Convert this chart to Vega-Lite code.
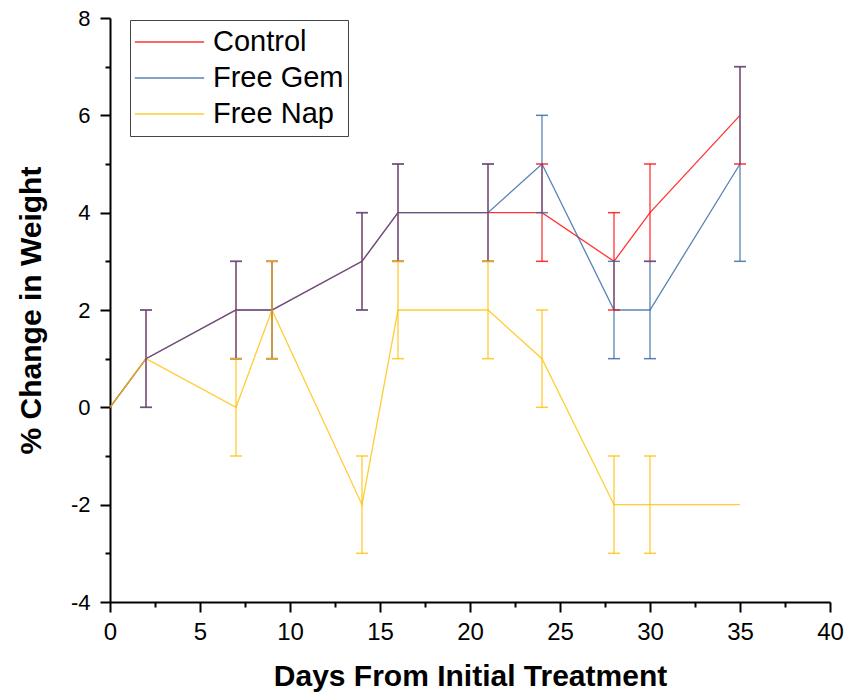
{
  "$schema": "https://vega.github.io/schema/vega-lite/v6.json",
  "width": 720,
  "height": 584,
  "autosize": {"type": "none"},
  "padding": {"left": 110, "top": 18, "right": 21, "bottom": 96},
  "background": "white",
  "config": {
    "view": {"stroke": null},
    "font": "Liberation Sans",
    "axis": {"grid": false, "domainColor": "black", "tickColor": "black", "labelColor": "black", "titleColor": "black", "labelFont": "Liberation Sans", "titleFont": "Liberation Sans", "domainWidth": 2, "tickWidth": 2, "labelFlush": false, "labelOverlap": false}
  },
  "data": {"values": [
    {"day": 0, "pct": 0, "group": "Control"},
    {"day": 2, "pct": 1, "lo": 0, "hi": 2, "group": "Control"},
    {"day": 7, "pct": 2, "lo": 1, "hi": 3, "group": "Control"},
    {"day": 9, "pct": 2, "lo": 1, "hi": 3, "group": "Control"},
    {"day": 14, "pct": 3, "lo": 2, "hi": 4, "group": "Control"},
    {"day": 16, "pct": 4, "lo": 3, "hi": 5, "group": "Control"},
    {"day": 21, "pct": 4, "lo": 3, "hi": 5, "group": "Control"},
    {"day": 24, "pct": 4, "lo": 3, "hi": 5, "group": "Control"},
    {"day": 28, "pct": 3, "lo": 2, "hi": 4, "group": "Control"},
    {"day": 30, "pct": 4, "lo": 3, "hi": 5, "group": "Control"},
    {"day": 35, "pct": 6, "lo": 5, "hi": 7, "group": "Control"},
    {"day": 0, "pct": 0, "group": "Free Gem"},
    {"day": 2, "pct": 1, "lo": 0, "hi": 2, "group": "Free Gem"},
    {"day": 7, "pct": 2, "lo": 1, "hi": 3, "group": "Free Gem"},
    {"day": 9, "pct": 2, "lo": 1, "hi": 3, "group": "Free Gem"},
    {"day": 14, "pct": 3, "lo": 2, "hi": 4, "group": "Free Gem"},
    {"day": 16, "pct": 4, "lo": 3, "hi": 5, "group": "Free Gem"},
    {"day": 21, "pct": 4, "lo": 3, "hi": 5, "group": "Free Gem"},
    {"day": 24, "pct": 5, "lo": 4, "hi": 6, "group": "Free Gem"},
    {"day": 28, "pct": 2, "lo": 1, "hi": 3, "group": "Free Gem"},
    {"day": 30, "pct": 2, "lo": 1, "hi": 3, "group": "Free Gem"},
    {"day": 35, "pct": 5, "lo": 3, "hi": 7, "group": "Free Gem"},
    {"day": 0, "pct": 0, "group": "Free Nap"},
    {"day": 2, "pct": 1, "group": "Free Nap"},
    {"day": 7, "pct": 0, "lo": -1, "hi": 1, "group": "Free Nap"},
    {"day": 9, "pct": 2, "lo": 1, "hi": 3, "group": "Free Nap"},
    {"day": 14, "pct": -2, "lo": -3, "hi": -1, "group": "Free Nap"},
    {"day": 16, "pct": 2, "lo": 1, "hi": 3, "group": "Free Nap"},
    {"day": 21, "pct": 2, "lo": 1, "hi": 3, "group": "Free Nap"},
    {"day": 24, "pct": 1, "lo": 0, "hi": 2, "group": "Free Nap"},
    {"day": 28, "pct": -2, "lo": -3, "hi": -1, "group": "Free Nap"},
    {"day": 30, "pct": -2, "lo": -3, "hi": -1, "group": "Free Nap"},
    {"day": 35, "pct": -2, "group": "Free Nap"}
  ]},
  "resolve": {"axis": {"x": "independent", "y": "independent"}},
  "layer": [
    {
      "mark": {"type": "line", "strokeWidth": 1.3, "opacity": 0.8},
      "encoding": {
        "x": {"field": "day", "type": "quantitative", "scale": {"domain": [0, 40], "nice": false},
          "axis": {"values": [0, 5, 10, 15, 20, 25, 30, 35, 40], "tickSize": 10, "labelFontSize": 24, "labelPadding": 8, "title": "Days From Initial Treatment", "titleFontSize": 30, "titleFontWeight": "bold", "titlePadding": 17}},
        "y": {"field": "pct", "type": "quantitative", "scale": {"domain": [-4, 8], "nice": false, "zero": false},
          "axis": {"values": [-4, -2, 0, 2, 4, 6, 8], "labelExpr": "toString(datum.value)", "tickSize": 10, "labelFontSize": 22, "labelPadding": 10, "title": "% Change in Weight", "titleFontSize": 30, "titleFontWeight": "bold", "titlePadding": 24}},
        "color": {"field": "group", "type": "nominal",
          "scale": {"domain": ["Control", "Free Gem", "Free Nap"], "range": ["#ff0000", "#2f64a3", "#ffc000"]},
          "legend": {"title": null, "orient": "none", "legendX": 20, "legendY": 2, "symbolType": "stroke", "symbolSize": 4800, "symbolStrokeWidth": 1.5, "clipHeight": 36, "labelFontSize": 29, "labelFont": "Liberation Sans", "labelColor": "black", "strokeColor": "#444", "padding": 4, "labelOffset": 8, "rowPadding": 0}},
        "order": {"field": "day", "type": "quantitative"}
      }
    },
    {
      "transform": [{"filter": "isValid(datum.lo)"}],
      "mark": {"type": "rule", "strokeWidth": 1.3, "opacity": 0.8},
      "encoding": {
        "x": {"field": "day", "type": "quantitative", "scale": {"domain": [0, 40], "nice": false},
          "axis": {"orient": "bottom", "values": [2.5, 7.5, 12.5, 17.5, 22.5, 27.5, 32.5, 37.5], "tickSize": 5, "labels": false, "domain": false, "title": null}},
        "y": {"field": "lo", "type": "quantitative", "scale": {"domain": [-4, 8], "nice": false, "zero": false},
          "axis": {"orient": "left", "values": [-3, -1, 1, 3, 5, 7], "tickSize": 5, "labels": false, "domain": false, "title": null}},
        "y2": {"field": "hi"},
        "color": {"field": "group", "type": "nominal", "legend": null}
      }
    },
    {
      "transform": [{"filter": "isValid(datum.lo)"}, {"fold": ["lo", "hi"], "as": ["end", "val"]}],
      "mark": {"type": "tick", "orient": "horizontal", "size": 12, "thickness": 1.5, "opacity": 0.8},
      "encoding": {
        "x": {"field": "day", "type": "quantitative", "axis": null},
        "y": {"field": "val", "type": "quantitative", "axis": null},
        "color": {"field": "group", "type": "nominal", "legend": null}
      }
    }
  ]
}
